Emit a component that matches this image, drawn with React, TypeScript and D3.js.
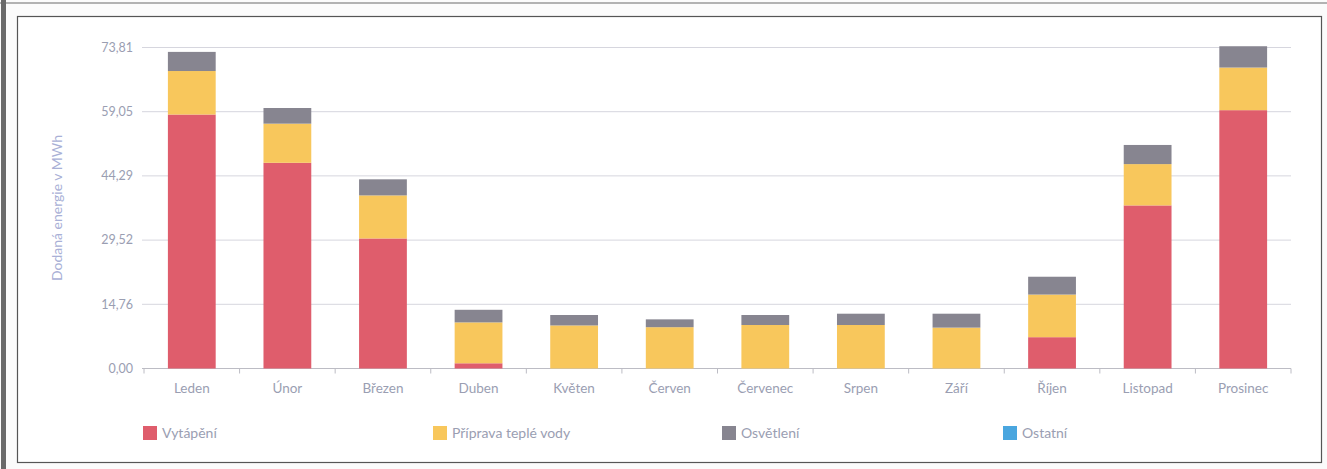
import React from "react";
import * as d3 from "d3";

const categories = ["Leden", "Únor", "Březen", "Duben", "Květen", "Červen", "Červenec", "Srpen", "Září", "Říjen", "Listopad", "Prosinec"];
const vytapeni = [58.4, 47.3, 29.9, 1.2, 0, 0, 0, 0, 0, 7.2, 37.5, 59.4];
const pripravaTepleVody = [10.0, 9.0, 9.9, 9.4, 9.9, 9.5, 10.0, 10.0, 9.4, 9.8, 9.5, 9.8];
const osvetleni = [4.4, 3.6, 3.7, 2.9, 2.4, 1.8, 2.3, 2.6, 3.2, 4.1, 4.4, 4.9];
const ostatni = [0, 0, 0, 0, 0, 0, 0, 0, 0, 0, 0, 0];
const seriesNames = ["Vytápění", "Příprava teplé vody", "Osvětlení", "Ostatní"];
const seriesColors = ["#df5d6c", "#f8c75c", "#878590", "#4aa6df"];
const yTicks = [0, 14.76, 29.52, 44.29, 59.05, 73.81];
const yTickLabels = ["0,00", "14,76", "29,52", "44,29", "59,05", "73,81"];
const yTitle = "Dodaná energie v MWh";

const W = 1327, H = 469;
const FONT = "Lato, 'Open Sans', sans-serif";
const TXT = "#9a9eb2";

export default function App() {
  const keys = ["v", "p", "o", "x"];
  const rows = categories.map((c, i) => ({ c, v: vytapeni[i], p: pripravaTepleVody[i], o: osvetleni[i], x: ostatni[i] }));
  const stacked = d3.stack<any>().keys(keys)(rows);
  const x = d3.scaleBand<string>().domain(categories).range([144, 1291]).paddingInner(0.5).paddingOuter(0.25);
  const y = d3.scaleLinear().domain([0, 73.81]).range([368.5, 47.5]);
  const bandEdges = d3.range(categories.length + 1).map((i) => 144 + i * (1147 / categories.length));
  const legendX = [143, 433, 722, 1003];

  return (
    <svg width={W} height={H} style={{ position: "absolute", left: 0, top: 0, background: "#fbfbfb" }} fontFamily={FONT}>
      <rect x={0} y={0} width={W} height={H} fill="#fbfbfb" />
      <line x1={0} y1={3} x2={W} y2={3} stroke="#9a9a9a" strokeWidth={1.5} />
      <rect x={1} y={0} width={5} height={H} fill="#6a6a6a" />
      <rect x={17.5} y={16.5} width={1304} height={446} fill="#ffffff" stroke="#555" strokeWidth={1.2} />
      {yTicks.map((t, i) => (
        <g key={i}>
          <line x1={142} x2={1291} y1={y(t)} y2={y(t)} stroke={i === 0 ? "#bcbcc4" : "#d6d6de"} strokeWidth={1} />
          <text x={133} y={y(t)} dy="0.35em" textAnchor="end" fontSize={12.5} fill={TXT}>{yTickLabels[i]}</text>
        </g>
      ))}
      {bandEdges.map((e, i) => (
        <line key={i} x1={e} x2={e} y1={y(0)} y2={y(0) + 5} stroke="#bcbcc4" />
      ))}
      <text transform={`translate(62,${208}) rotate(-90)`} textAnchor="middle" fontSize={14} fill="#a9b0d6">{yTitle}</text>
      {stacked.map((s, si) => (
        <g key={si} fill={seriesColors[si]}>
          {s.map((d, i) => (
            d[1] - d[0] > 0 ? (
              <rect key={i} x={x(categories[i])!} width={x.bandwidth()} y={y(d[1])} height={y(d[0]) - y(d[1])} />
            ) : null
          ))}
        </g>
      ))}
      {categories.map((c) => (
        <text key={c} x={x(c)! + x.bandwidth() / 2} y={388} dy="0.35em" textAnchor="middle" fontSize={13.5} fill={TXT}>{c}</text>
      ))}
      {seriesNames.map((n, i) => (
        <g key={n}>
          <rect x={legendX[i]} y={426} width={14} height={14} fill={seriesColors[i]} />
          <text x={legendX[i] + 19} y={433} dy="0.35em" fontSize={14} fill={TXT}>{n}</text>
        </g>
      ))}
    </svg>
  );
}
